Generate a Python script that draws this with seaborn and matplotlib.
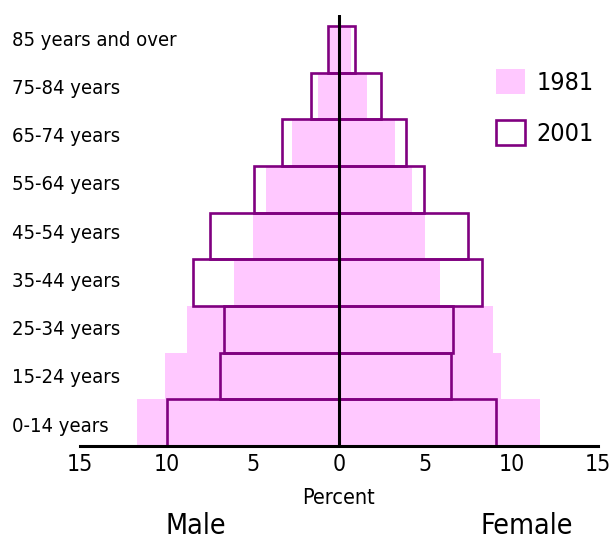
"""
Age pyramid: population by sex and age group, 1981 vs 2001.
"""

import matplotlib

matplotlib.use("Agg")
import matplotlib.pyplot as plt
import numpy as np
import pandas as pd
import seaborn as sns

PINK = "#FFC8FF"
PURPLE = "#800080"

AGE_GROUPS = [
    "85 years and over",
    "75-84 years",
    "65-74 years",
    "55-64 years",
    "45-54 years",
    "35-44 years",
    "25-34 years",
    "15-24 years",
    "0-14 years",
]
MALE_1981 = [0.55, 1.23, 2.74, 4.2, 5.0, 6.1, 8.82, 10.06, 11.72]
FEMALE_1981 = [0.71, 1.61, 3.26, 4.2, 5.0, 5.83, 8.92, 9.4, 11.66]
MALE_2001 = [0.62, 1.63, 3.29, 4.93, 7.45, 8.46, 6.64, 6.87, 9.95]
FEMALE_2001 = [0.9, 2.42, 3.9, 4.93, 7.45, 8.26, 6.58, 6.49, 9.1]
YEARS = ["1981", "2001"]

X_TICKS = [-15, -10, -5, 0, 5, 10, 15]
X_TICK_LABELS = ["15", "10", "5", "0", "5", "10", "15"]


def build_frame() -> pd.DataFrame:
    """Собирает таблицу с мужчинами (отрицательные) и женщинами."""
    return pd.DataFrame(
        {
            "age": AGE_GROUPS,
            "male_1981": -np.array(MALE_1981),
            "female_1981": np.array(FEMALE_1981),
            "male_2001": -np.array(MALE_2001),
            "female_2001": np.array(FEMALE_2001),
        }
    )


def main():
    sns.set_theme(style="white")
    plt.rcParams["font.family"] = ["DejaVu Sans"]
    plt.rcParams["font.stretch"] = "condensed"
    for key in ["text.color", "xtick.color", "ytick.color", "axes.labelcolor"]:
        plt.rcParams[key] = "black"

    df = build_frame()
    fig = plt.figure(figsize=(6.11, 5.41), dpi=100)
    ax = fig.add_axes([80 / 611, 1 - 446 / 541, 518 / 611, 431 / 541])

    # 1981 — заливка
    for col in ["male_1981", "female_1981"]:
        sns.barplot(
            data=df, x=col, y="age", orient="h", color=PINK, width=1.0,
            saturation=1, errorbar=None, linewidth=0, ax=ax,
        )
    # 2001 — контур
    for col in ["male_2001", "female_2001"]:
        sns.barplot(
            data=df, x=col, y="age", orient="h", color=PURPLE, fill=False,
            width=1.0, saturation=1, errorbar=None, linewidth=1.9, ax=ax,
        )

    ax.axvline(0, color="black", lw=2.2, zorder=5)

    n = len(AGE_GROUPS)
    ax.set_xlim(-15, 15)
    ax.set_ylim(n - 0.5, -0.735)

    ax.set_xticks(X_TICKS, labels=X_TICK_LABELS)
    ax.tick_params(axis="x", length=0, pad=5, labelsize=16.5)

    tick_y = np.arange(n) * 1.034 - 0.24
    ax.set_yticks(tick_y, labels=AGE_GROUPS)
    ax.tick_params(axis="y", length=0, pad=49, labelsize=14.5)
    for lbl in ax.get_yticklabels():
        lbl.set_horizontalalignment("left")

    sns.despine(ax=ax, left=True)
    ax.spines["bottom"].set_linewidth(2.2)
    ax.spines["bottom"].set_color("black")
    ax.spines["bottom"].set_zorder(6)

    ax.set_xlabel("Percent", fontsize=15.5, labelpad=9)
    ax.set_ylabel("")

    fig.text(196 / 611, 1 - 526 / 541, "Male", fontsize=20.5, ha="center", va="center")
    fig.text(527 / 611, 1 - 526 / 541, "Female", fontsize=20.5, ha="center", va="center")

    handles = [ax.containers[0], ax.containers[2]]
    fig.legend(
        handles=handles, labels=YEARS, loc="upper left",
        bbox_to_anchor=(496 / 611, 1 - 69 / 541), frameon=False,
        fontsize=18, handlelength=1.16, handleheight=1.16,
        handletextpad=0.45, labelspacing=1.0, borderpad=0, borderaxespad=0,
    )

    fig.savefig("out.png", dpi=100)
    plt.close(fig)


if __name__ == "__main__":
    main()
